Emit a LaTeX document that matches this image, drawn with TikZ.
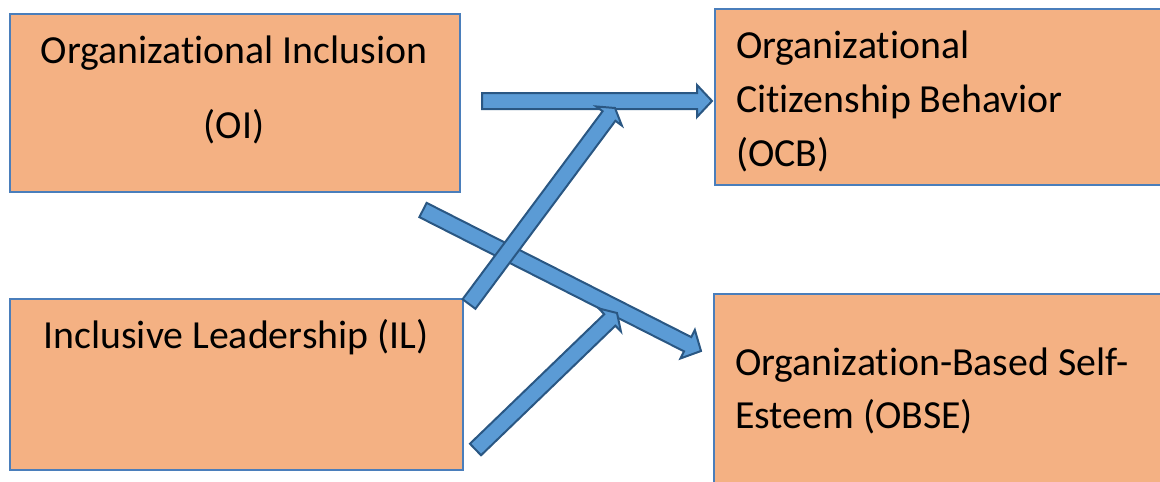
\documentclass[tikz,border=0pt]{standalone}
\usepackage{fontspec}
\setmainfont[Ligatures={NoCommon}]{Carlito}
\usetikzlibrary{calc}
\definecolor{boxfill}{HTML}{F4B183}
\definecolor{boxline}{HTML}{4A7EBB}
\definecolor{arrfill}{HTML}{5B9BD5}
\definecolor{arrline}{HTML}{2A5783}
\tikzset{
  box/.style={draw=boxline, fill=boxfill, line width=2pt, rectangle, inner sep=0pt, anchor=north west},
  lbl/.style={inner sep=0pt, font=\fontsize{39.8pt}{54pt}\selectfont, text=black},
  barrow/.style={draw=arrline, fill=arrfill, line width=2pt, line join=miter}
}
\newcommand{\blockarrow}[3]{%
  \coordinate (#1-h) at ($(#2)!#3!(#1)$);
  \draw[barrow] ($(#1)!8pt!90:(#2)$) -- ($(#1-h)!8pt!-90:(#1)$) -- ($(#1-h)!16pt!-90:(#1)$) -- (#2) -- ($(#1-h)!16pt!90:(#1)$) -- ($(#1-h)!8pt!90:(#1)$) -- ($(#1)!8pt!-90:(#2)$) -- cycle;
}
\begin{document}
\begin{tikzpicture}[x=1pt,y=-1pt]
\useasboundingbox (0,0) rectangle (1160,482);
\clip (0,0) rectangle (1160,482);
% boxes
\node[box, minimum width=450pt, minimum height=178pt] (oi) at (9,13) {};
\node[box, minimum width=456pt, minimum height=176pt] (ocb) at (714,8) {};
\node[box, minimum width=453pt, minimum height=171pt] (il) at (9,298) {};
\node[box, minimum width=457pt, minimum height=207pt] (obse) at (713,293) {};
% labels
\node[lbl, anchor=base] (oi1) at (234,63) {Organizational Inclusion};
\node[lbl, anchor=base] (oi2) at (234,138) {(OI)};
\node[lbl, anchor=base west] (ocb1) at (736,58) {Organizational};
\node[lbl, anchor=base west] (ocb2) at (736,112) {Citizenship Behavior};
\node[lbl, anchor=base west] (ocb3) at (736,166) {(OCB)};
\node[lbl, anchor=base] (il1) at (236,348) {Inclusive Leadership (IL)};
\node[lbl, anchor=base west] (obse1) at (735,375) {Organization-Based Self-};
\node[lbl, anchor=base west] (obse2) at (735,428) {Esteem (OBSE)};
% arrow end points
\coordinate (a1t) at (482,101);
\coordinate (a1h) at (712,101);
\coordinate (a2t) at (423,210);
\coordinate (a2h) at (701,351);
\coordinate (a3t) at (469,304);
\coordinate (a3h) at (615,108);
\coordinate (a4t) at (475.5,449.5);
\coordinate (a4h) at (617,313);
% arrows
\blockarrow{a1t}{a1h}{15pt}
\blockarrow{a2t}{a2h}{15pt}
\blockarrow{a3t}{a3h}{10pt}
\blockarrow{a4t}{a4h}{10pt}
\end{tikzpicture}
\end{document}
